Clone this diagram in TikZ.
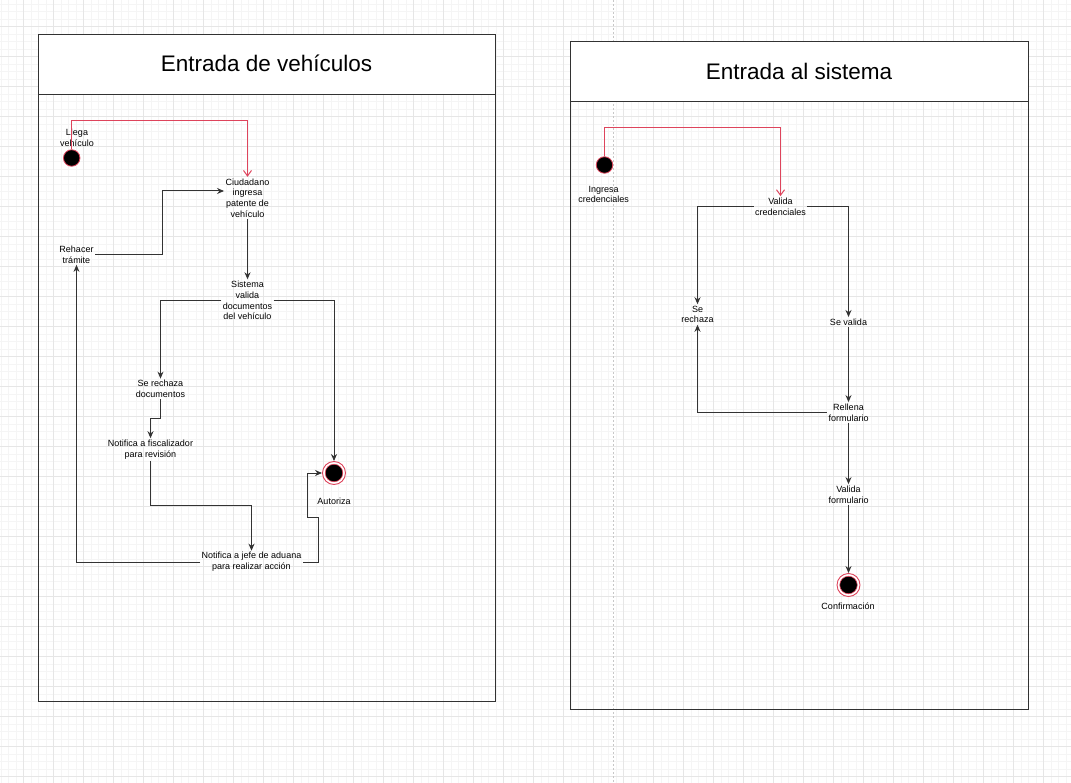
\documentclass[tikz,border=0pt]{standalone}
\usepackage{fontspec}
\setmainfont{Liberation Sans}
\usetikzlibrary{arrows.meta,calc}
\definecolor{edgered}{RGB}{222,68,92}
\definecolor{gridminor}{RGB}{245,245,245}
\definecolor{gridmajor}{RGB}{230,230,230}
\definecolor{panelline}{RGB}{50,50,50}
\tikzset{
  lbl/.style={align=center,font=\fontsize{9}{10.8}\selectfont,inner sep=1.5pt},
  conn/.style={draw=black!80,line width=1pt,-{Stealth[length=7pt,width=6pt]}},
  redconn/.style={draw=edgered,line width=1pt,-{Straight Barb[length=5.5pt,width=8pt]}},
  startnode/.style={circle,fill=black,draw=edgered,line width=0.8pt,minimum size=16.5pt,inner sep=0pt},
  endouter/.style={circle,fill=white,draw=edgered,line width=0.9pt,minimum size=23pt,inner sep=0pt},
  endinner/.style={circle,fill=black,draw=edgered,line width=0.6pt,minimum size=17.5pt,inner sep=0pt},
  panel/.style={draw=panelline,line width=1pt},
  header/.style={draw=panelline,line width=1pt,fill=white},
  titletext/.style={font=\fontsize{22.5}{26}\selectfont,inner sep=0pt}
}
\begin{document}
\begin{tikzpicture}[x=1pt,y=-1pt]
\useasboundingbox (0,0) rectangle (1071,783);
\fill[white] (0,0) rectangle (1071,783);
% grid
\foreach \i in {0,...,143} {
  \pgfmathsetmacro{\gx}{0.8+7.5*\i}
  \draw[gridminor,line width=0.5pt] (\gx,0) -- (\gx,783);
}
\foreach \i in {0,...,104} {
  \pgfmathsetmacro{\gy}{4.2+7.5*\i}
  \draw[gridminor,line width=0.5pt] (0,\gy) -- (1071,\gy);
}
\foreach \i in {0,...,35} {
  \pgfmathsetmacro{\gx}{23.3+30*\i}
  \draw[gridmajor,line width=0.6pt] (\gx,0) -- (\gx,783);
}
\foreach \i in {0,...,26} {
  \pgfmathsetmacro{\gy}{26.7+30*\i}
  \draw[gridmajor,line width=0.6pt] (0,\gy) -- (1071,\gy);
}
\draw[black!22,dash pattern=on 2pt off 2pt,line width=0.8pt] (613.3,0) -- (613.3,783);

% ---------- Left panel ----------
\draw[panel] (38.5,94.5) rectangle (495.5,701.5);
\draw[header] (38.5,34.5) rectangle (495.5,94.5);
\node[titletext] (t1) at (266.5,63) {Entrada de vehículos};

\node[startnode] (ini) at (71.7,158) {};
\node[lbl] (llega) at (77,138) {Llega\\vehículo};
\node[lbl] (ciu) at (247.5,198) {Ciudadano\\ingresa\\patente de\\vehículo};
\node[lbl] (reh) at (76.5,254.5) {Rehacer\\trámite};
\node[lbl] (sis) at (247.5,300.5) {Sistema\\valida\\documentos\\del vehículo};
\node[lbl] (rech) at (160.5,389) {Se rechaza\\documentos};
\node[lbl] (fis) at (150.5,449.5) {Notifica a fiscalizador\\para revisión};
\node[lbl] (jefe) at (251.5,562) {Notifica a jefe de aduana\\para realizar acción};
\node[endouter] (aut) at (334,473) {};
\node[endinner] (autin) at (334,473) {};
\node[lbl] (autl) at (334,501.5) {Autoriza};

\draw[redconn] (ini.north) -- (ini.north |- 0,120.5) -| (ciu.north);
\draw[conn] (reh.east) -| (162.5,220) |- ($(ciu.west)+(0,-7)$);
\draw[conn] (ciu.south) -- (sis.north);
\draw[conn] (sis.west) -| (rech.north);
\draw[conn] (sis.east) -| (aut.north);
\draw[conn] (rech.south) |- ($(rech.south)!.5!(fis.north)$) -| (fis.north);
\draw[conn] (fis.south) |- ($(fis.south)!.5!(jefe.north)$) -| (jefe.north);
\draw[conn] (jefe.west) -| (reh.south);
\draw[conn] (jefe.east) -| (318.5,517.5) -| (307.5,0 |- aut.west) -- (aut.west);

% ---------- Right panel ----------
\draw[panel] (570.5,101.5) rectangle (1028.5,709.5);
\draw[header] (570.5,41.5) rectangle (1028.5,101.5);
\node[titletext] (t2) at (799,71) {Entrada al sistema};

\node[startnode] (ini2) at (604.5,165) {};
\node[lbl] (ingl) at (603.7,194.5) {Ingresa\\credenciales};
\node[lbl] (val) at (780.5,206.5) {Valida\\credenciales};
\node[lbl] (serech) at (697.5,314.5) {Se\\rechaza};
\node[lbl] (seval) at (848.5,322) {Se valida};
\node[lbl] (rell) at (848.5,412.5) {Rellena\\formulario};
\node[lbl] (valf) at (848.5,494.5) {Valida\\formulario};
\node[endouter] (conf) at (848.5,585) {};
\node[endinner] (confin) at (848.5,585) {};
\node[lbl] (confl) at (848,606.5) {Confirmación};

\draw[redconn] (ini2.north) -- (ini2.north |- 0,127.5) -| (val.north);
\draw[conn] (val.west) -| (serech.north);
\draw[conn] (val.east) -| (seval.north);
\draw[conn] (seval.south) -- (rell.north);
\draw[conn] (rell.west) -| (serech.south);
\draw[conn] (rell.south) -- (valf.north);
\draw[conn] (valf.south) -- (conf.north);
\end{tikzpicture}
\end{document}
